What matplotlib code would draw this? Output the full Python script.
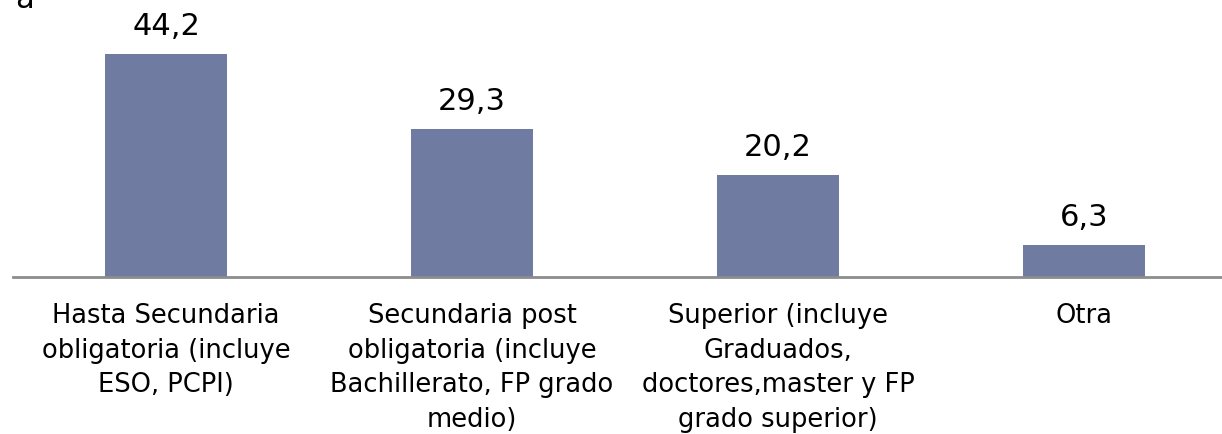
import matplotlib
matplotlib.use("Agg")
import matplotlib.pyplot as plt

categories = [
    "Hasta Secundaria\nobligatoria (incluye\nESO, PCPI)",
    "Secundaria post\nobligatoria (incluye\nBachillerato, FP grado\nmedio)",
    "Superior (incluye\nGraduados,\ndoctores,master y FP\ngrado superior)",
    "Otra",
]
values = [44.2, 29.3, 20.2, 6.3]
value_labels = ["44,2", "29,3", "20,2", "6,3"]

plt.rcParams['font.family'] = ['DejaVu Sans']

W, H = 1222, 435
fig = plt.figure(figsize=(W / 100, H / 100), dpi=100)
ax = fig.add_axes([13 / W, 157 / H, 1224 / W, 252 / H])

x = range(len(values))
bars = ax.bar(x, values, width=0.4, color="#707BA2", zorder=2)
ax.set_xlim(-0.5, 3.5)
ax.set_ylim(0, 50)

for xi, v, lab in zip(x, values, value_labels):
    ax.annotate(lab, (xi, v), xytext=(0, 10), textcoords="offset points",
                ha="center", va="bottom", fontsize=22, color="black")

for s in ["top", "right", "left"]:
    ax.spines[s].set_visible(False)
ax.spines["bottom"].set_color("#8C8C8C")
ax.spines["bottom"].set_linewidth(2)
ax.set_yticks([])
ax.set_xticks(list(x))
ax.set_xticklabels(categories, fontsize=18.5, linespacing=1.43)
ax.tick_params(axis="x", length=0, pad=18)

fig.text(15 / W, 1 - 8 / H, "a", fontsize=22, va="baseline", ha="left")

fig.savefig("out.png", dpi=100)
